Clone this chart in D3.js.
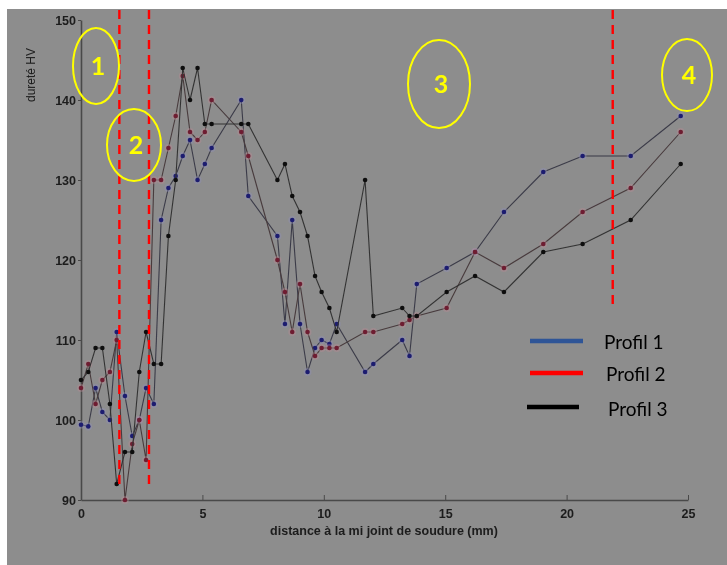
<!DOCTYPE html>
<html>
<head>
<meta charset="utf-8">
<script src="https://cdn.jsdelivr.net/npm/d3@7"></script>
<style>
  html, body { margin: 0; padding: 0; background: #ffffff; }
  svg { display: block; }
</style>
</head>
<body>
<svg id="chart" width="727" height="565"></svg>
<script>
// Hardness profiles across the weld (HV vs distance from weld mid-joint)
const distance = [0, 0.3, 0.6, 0.88, 1.19, 1.47, 1.81, 2.11, 2.4, 2.68,
  3.0, 3.3, 3.6, 3.9, 4.19, 4.49, 4.8, 5.1, 5.38, 6.6,
  6.89, 8.09, 8.4, 8.7, 9.02, 9.33, 9.64, 9.91, 10.23, 10.53,
  11.7, 12.04, 13.23, 13.53, 13.83, 15.06, 16.23, 17.42, 19.04, 20.66,
  22.64, 24.7];

const profil1 = [99.4, 99.2, 104, 101, 100, 111, 103, 98, 100, 104,
  102, 125, 129, 130.5, 133, 135, 130, 132, 134, 140,
  128, 123, 112, 125, 112, 106, 109, 110, 109.5, 112,
  106, 107, 110, 108, 117, 119, 121, 126, 131, 133,
  133, 138];

const profil2 = [104, 107, 102, 105, 106, 110, 90, 97, 100, 95,
  130, 130, 134, 138, 143, 136, 135, 136, 140, 136,
  133, 120, 116, 111, 117, 111, 108, 109, 109, 109,
  111, 111, 112, 112.5, 113, 114, 121, 119, 122, 126,
  129, 136];

const profil3 = [105, 106, 109, 109, 102, 92, 96, 96, 106, 111,
  107, 107, 123, 130, 144, 140, 144, 137, 137, 137,
  137, 130, 132, 128, 126, 123, 118, 116, 114, 111,
  130, 113, 114, 113, 113, 116, 118, 116, 121, 122,
  125, 132];

const seriesNames = ["Profil 1", "Profil 2", "Profil 3"];
const xTicks = [0, 5, 10, 15, 20, 25];
const yTicks = [90, 100, 110, 120, 130, 140, 150];

// zone boundaries (mm) and zone labels
const zoneBounds = [1.58, 2.8, 21.9];
const zoneLabels = ["1", "2", "3", "4"];

const svg = d3.select("#chart");

// grey page background
svg.append("rect").attr("x", 7).attr("y", 9).attr("width", 720).attr("height", 556)
  .attr("fill", "#8d8d8d");

const defs = svg.append("defs");
defs.append("filter").attr("id", "soft").attr("x", "-5%").attr("y", "-5%")
  .attr("width", "110%").attr("height", "110%")
  .append("feGaussianBlur").attr("stdDeviation", 0.6);

const x = d3.scaleLinear().domain([0, 25]).range([81, 688]);
const y = d3.scaleLinear().domain([90, 150]).range([500, 20]);

const plot = svg.append("g").attr("filter", "url(#soft)");

// axes
const xAxis = d3.axisBottom(x).tickValues(xTicks).tickSizeInner(-5).tickSizeOuter(0).tickPadding(9);
const yAxis = d3.axisLeft(y).tickValues(yTicks).tickSizeInner(3).tickSizeOuter(0).tickPadding(2);

const gx = plot.append("g").attr("transform", "translate(0,500)").call(xAxis);
const gy = plot.append("g").attr("transform", "translate(81,0)").call(yAxis);
[gx, gy].forEach(g => {
  g.select(".domain").attr("stroke", "#4a4a4a").attr("stroke-width", 1.6);
  g.selectAll(".tick line").attr("stroke", "#4a4a4a").attr("stroke-width", 1);
  g.selectAll(".tick text").attr("fill", "#1c1c1c")
    .style("font-family", "'Liberation Sans', Arial, sans-serif")
    .style("font-size", "12.5px").style("font-weight", "bold");
});

plot.append("text")
  .attr("transform", "translate(35,75) rotate(-90)")
  .attr("text-anchor", "middle")
  .attr("fill", "#1c1c1c")
  .style("font-family", "'Liberation Sans', Arial, sans-serif")
  .style("font-size", "12px")
  .text("dureté HV");

plot.append("text")
  .attr("x", 384).attr("y", 535)
  .attr("text-anchor", "middle")
  .attr("fill", "#1c1c1c")
  .style("font-family", "'Liberation Sans', Arial, sans-serif")
  .style("font-size", "12.5px").style("font-weight", "bold")
  .text("distance à la mi joint de soudure (mm)");

// data series
const series = [
  { name: seriesNames[0], values: profil1, line: "#3b3b48", dot: "#1e1e70", halo: "#8e8ec0" },
  { name: seriesNames[1], values: profil2, line: "#483b3d", dot: "#6e1f30", halo: "#c08a96" },
  { name: seriesNames[2], values: profil3, line: "#333333", dot: "#111111", halo: null }
];

const line = d3.line().x(d => x(d[0])).y(d => y(d[1]));

series.forEach(s => {
  const pts = distance.map((d, i) => [d, s.values[i]]);
  const g = plot.append("g");
  g.append("path").datum(pts).attr("d", line)
    .attr("fill", "none").attr("stroke", s.line).attr("stroke-width", 1.1);
  if (s.halo) {
    g.selectAll("circle.halo").data(pts).join("circle").attr("class", "halo")
      .attr("cx", d => x(d[0])).attr("cy", d => y(d[1])).attr("r", 4)
      .attr("fill", s.halo).attr("opacity", 0.35);
  }
  g.selectAll("circle.dot").data(pts).join("circle").attr("class", "dot")
    .attr("cx", d => x(d[0])).attr("cy", d => y(d[1])).attr("r", 2.3)
    .attr("fill", s.dot);
});

// zone boundaries
const boundEnds = [490, 490, 310];
svg.selectAll("line.zone").data(zoneBounds).join("line").attr("class", "zone")
  .attr("x1", d => x(d)).attr("x2", d => x(d))
  .attr("y1", 10).attr("y2", (d, i) => boundEnds[i])
  .attr("stroke", "#ff0000").attr("stroke-width", 2.4)
  .attr("stroke-dasharray", "9,6");

// zone labels in ellipses
const zones = [
  { cx: 96, cy: 66, rx: 23, ry: 38 },
  { cx: 134, cy: 145, rx: 27, ry: 36 },
  { cx: 439, cy: 84, rx: 31, ry: 44 },
  { cx: 687, cy: 75, rx: 25, ry: 36 }
];
zones.forEach((z, i) => {
  svg.append("ellipse").attr("cx", z.cx).attr("cy", z.cy).attr("rx", z.rx).attr("ry", z.ry)
    .attr("fill", "none").attr("stroke", "#ffff00").attr("stroke-width", 2);
  svg.append("text").attr("x", z.cx + 2).attr("y", z.cy + 9)
    .attr("text-anchor", "middle").attr("fill", "#ffff00")
    .style("font-family", "Lato, 'Open Sans', sans-serif")
    .style("font-size", "25px").style("font-weight", "bold")
    .text(zoneLabels[i]);
});

// legend
const legendColors = ["#2f5597", "#ff0000", "#000000"];
const legendRows = [
  { x1: 530, x2: 583, ly: 341, tx: 604, ty: 349 },
  { x1: 530, x2: 583, ly: 373, tx: 606, ty: 381 },
  { x1: 527, x2: 579, ly: 407, tx: 608, ty: 416 }
];
legendRows.forEach((r, i) => {
  svg.append("line").attr("x1", r.x1).attr("x2", r.x2).attr("y1", r.ly).attr("y2", r.ly)
    .attr("stroke", legendColors[i]).attr("stroke-width", 4.5);
  svg.append("text").attr("x", r.tx).attr("y", r.ty).attr("fill", "#000")
    .style("font-family", "Lato, 'Open Sans', sans-serif")
    .style("font-size", "19px")
    .text(seriesNames[i]);
});
</script>
</body>
</html>
